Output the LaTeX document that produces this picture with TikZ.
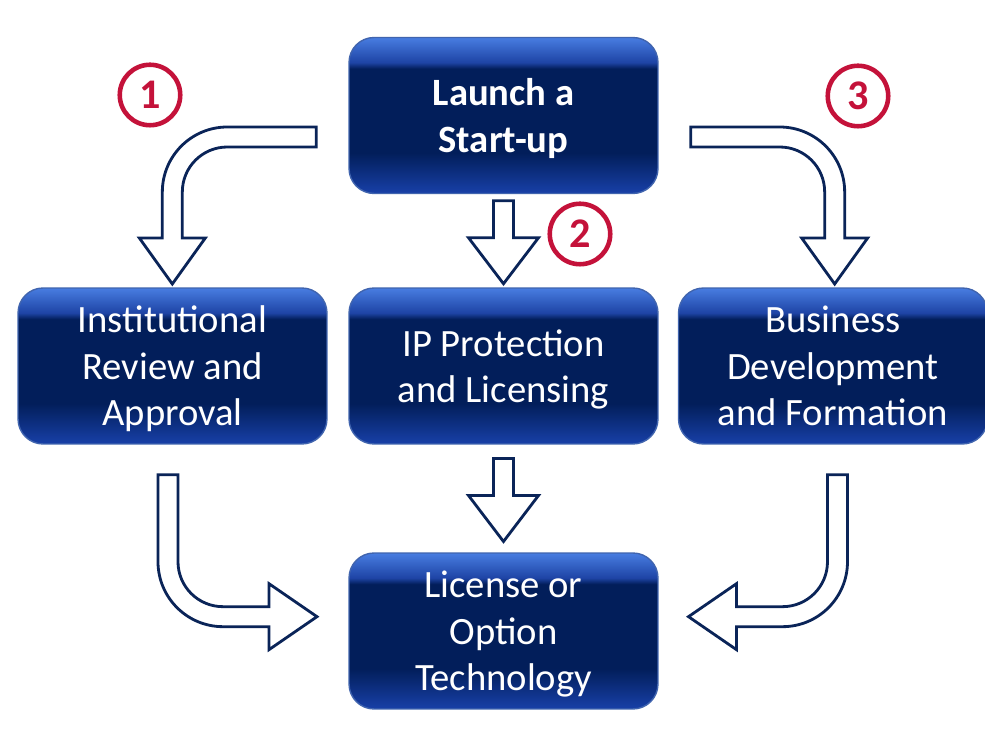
\documentclass[tikz,border=0pt]{standalone}
\usepackage{fontspec}
\setmainfont{Carlito}
\usepackage{tikz}
\usetikzlibrary{calc}
\definecolor{boxtop}{RGB}{72,125,225}
\definecolor{boxhi}{RGB}{30,68,165}
\definecolor{boxmid}{RGB}{2,30,90}
\definecolor{boxbot}{RGB}{24,64,168}
\definecolor{boxline}{RGB}{64,100,174}
\definecolor{navy}{RGB}{10,36,88}
\definecolor{numred}{RGB}{196,18,58}
\pgfdeclareverticalshading{boxshade}{100bp}{color(0bp)=(boxbot); color(25bp)=(boxbot); color(38bp)=(boxmid); color(65bp)=(boxmid); color(67bp)=(boxhi); color(75bp)=(boxtop); color(100bp)=(boxtop)}

\begin{document}
\begin{tikzpicture}[x=0.02cm,y=-0.02cm,
  box/.style={rounded corners=0.5cm, draw=boxline, line width=0.8pt, shade, shading=boxshade,
    minimum width=6.18cm, minimum height=3.12cm, text=white, align=center, text depth=0pt,
    font=\fontsize{22}{26.5}\selectfont},
  num/.style={circle, draw=numred, line width=2.6pt, minimum size=1.21cm, inner sep=0pt,
    text=numred, font=\fontsize{24}{28}\selectfont\bfseries},
  blockarrow/.style={draw=navy, fill=white, line width=1.6pt}]
\useasboundingbox[fill=white] (0,0) rectangle (985,732);

\node[box, font=\fontsize{22}{26.5}\selectfont\bfseries] (1) at (503.5,115.5) {Launch a\\Start-up};
\node[box] (2) at (172.5,366) {Institutional\\Review and\\Approval};
\node[box] (3) at (503.5,366) {IP Protection\\and Licensing};
\node[box] (4) at (833,366) {Business\\Development\\and Formation};
\node[box] (5) at (503.5,631) {License or\\Option\\Technology};

\node[num] (c1) at (150,95) {1};
\node[num] (c2) at (580,234) {2};
\node[num] (c3) at (858,96) {3};

% straight down arrows
\draw[blockarrow] ($(1.south)!.5!(3.north)+(-10,-40)$) -- ++(0,37) -- ++(-25,0) -- ++(35,46)
  -- ++(35,-46) -- ++(-25,0) -- ++(0,-37) -- cycle;
\draw[blockarrow] ($(3.south)!.5!(5.north)+(-10,-40)$) -- ++(0,37) -- ++(-25,0) -- ++(35,46)
  -- ++(35,-46) -- ++(-25,0) -- ++(0,-37) -- cycle;

% bent arrows from the top box
\draw[blockarrow] ($(1.west)+(-32,11.5)$) -- ++(-89,0)
  .. controls +(-35.9,0) and +(0,-35.9) .. ++(-65,65) -- ++(0,46) -- ++(-23,0)
  -- ++(33,46) -- ++(33,-46) -- ++(-23,0) -- ++(0,-46)
  .. controls +(0,-24.9) and +(-24.9,0) .. ++(45,-45) -- ++(89,0) -- cycle;
\draw[blockarrow] ($(1.east)+(32,11.5)$) -- ++(89,0)
  .. controls +(35.9,0) and +(0,-35.9) .. ++(65,65) -- ++(0,46) -- ++(23,0)
  -- ++(-33,46) -- ++(-33,-46) -- ++(23,0) -- ++(0,-46)
  .. controls +(0,-24.9) and +(24.9,0) .. ++(-45,-45) -- ++(-89,0) -- cycle;

% bent arrows into the bottom box
\draw[blockarrow] ($(2.south)+(-14.5,30)$) -- ++(0,87)
  .. controls +(0,35.9) and +(-35.9,0) .. ++(65,65) -- ++(46,0) -- ++(0,23)
  -- ++(48,-33) -- ++(-48,-33) -- ++(0,23) -- ++(-46,0)
  .. controls +(-24.9,0) and +(0,24.9) .. ++(-45,-45) -- ++(0,-87) -- cycle;
\draw[blockarrow] ($(4.south)+(14.5,30)$) -- ++(0,87)
  .. controls +(0,35.9) and +(35.9,0) .. ++(-65,65) -- ++(-46,0) -- ++(0,23)
  -- ++(-48,-33) -- ++(48,-33) -- ++(0,23) -- ++(46,0)
  .. controls +(24.9,0) and +(0,24.9) .. ++(45,-45) -- ++(0,-87) -- cycle;
\end{tikzpicture}
\end{document}
